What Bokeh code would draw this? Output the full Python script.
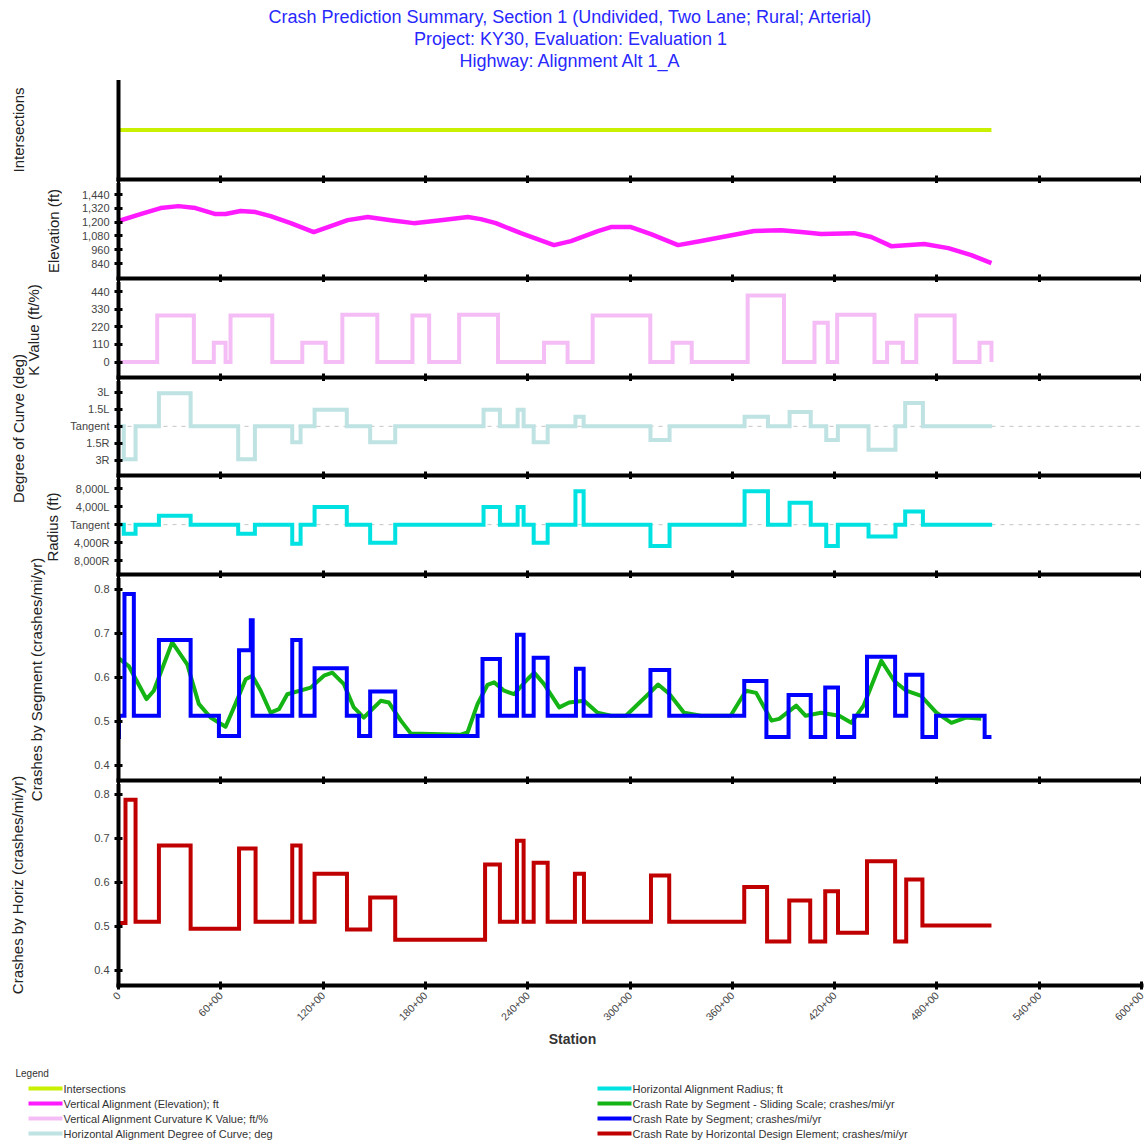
import math
from bokeh.plotting import figure
from bokeh.layouts import column, row
from bokeh.models import Range1d, FixedTicker, NumeralTickFormatter, Span, CustomLabelingPolicy
from bokeh.core.properties import value
from bokeh.embed import file_html
from bokeh.resources import INLINE

# ---------------- data ----------------
title_lines = [
    "Crash Prediction Summary, Section 1 (Undivided, Two Lane; Rural; Arterial)",
    "Project: KY30, Evaluation: Evaluation 1",
    "Highway: Alignment Alt 1_A",
]
panel_titles = ["Intersections", "Elevation (ft)", "K Value (ft/%)", "Degree of Curve (deg)",
                "Radius (ft)", "Crashes by Segment (crashes/mi/yr)", "Crashes by Horiz (crashes/mi/yr)"]
x_title = "Station"
x_ticks = [0, 60, 120, 180, 240, 300, 360, 420, 480, 540, 600]
x_tick_labels = ["0", "60+00", "120+00", "180+00", "240+00", "300+00",
                 "360+00", "420+00", "480+00", "540+00", "600+00"]

elev_ticks = [840, 960, 1080, 1200, 1320, 1440]
k_ticks = [0, 110, 220, 330, 440]
deg_ticks = [-3, -1.5, 0, 1.5, 3]
deg_tick_labels = ["3R", "1.5R", "Tangent", "1.5L", "3L"]
rad_ticks = [-8000, -4000, 0, 4000, 8000]
rad_tick_labels = ["8,000R", "4,000R", "Tangent", "4,000L", "8,000L"]
crash_ticks = [0.4, 0.5, 0.6, 0.7, 0.8]

# intersections (none: flat line)
isect_sta = [0, 512]
isect_val = [0, 0]

# vertical alignment elevation (ft) by station (x100 ft)
elev_sta = [0, 12.9, 24.7, 35.2, 45.2, 56.9, 62.8, 71.6, 80.4, 89.2, 101, 114.5, 124.5, 134.4,
            146.2, 159.7, 173.2, 189, 204.9, 212.5, 221.3, 236, 255.4, 265.4, 281.2, 288.8,
            300.6, 312.3, 328.2, 341.7, 372.8, 388.7, 400.4, 412.1, 431.5, 441.5, 453.2,
            472.6, 486.7, 500.2, 512]
elev_ft = [1209, 1270, 1322, 1339, 1322, 1270, 1270, 1296, 1287, 1252, 1191, 1113, 1165, 1217,
           1244, 1217, 1191, 1217, 1244, 1226, 1191, 1104, 1000, 1035, 1122, 1157,
           1157, 1096, 1000, 1035, 1122, 1130, 1113, 1096, 1104, 1070, 991,
           1009, 974, 913, 843]

# vertical curvature K value (segment boundaries, value per segment)
k_sta = [0, 22.7, 44.2, 55.9, 62.8, 65.7, 90.2, 107.8, 121.5, 131.3, 151.8, 172.4, 182.2,
         199.8, 222.6, 249.6, 263.4, 278.1, 311.9, 325, 336.2, 369, 390.3, 408.2, 416,
         421.5, 443.4, 450.8, 460, 467.9, 490.4, 505, 512]
k_val = [0, 290, 0, 120, 0, 290, 0, 120, 0, 295, 0, 290, 0, 295, 0, 120, 0, 290, 0, 120,
         0, 415, 0, 245, 0, 295, 0, 120, 0, 290, 0, 120]

# horizontal alignment (segment boundaries shared by degree and radius)
horiz_sta = [0, 3.1, 10, 23.7, 42.3, 70.2, 80, 101.9, 106.8, 115, 133.9, 147.6, 162.3, 214.1,
             223.7, 234.1, 237.6, 243.5, 251.7, 268, 272.8, 312, 323.2, 367.2, 380.9, 393.6,
             406, 415.1, 421.9, 439.9, 455.7, 461.4, 471.8, 512.4]
deg_val = [0, -2.9, 0, 2.9, 0, -2.9, 0, -1.4, 0, 1.45, 0, -1.4, 0, 1.45, 0, 1.45, 0, -1.4,
           0, 0.85, 0, -1.2, 0, 0.85, 0, 1.25, 0, -1.2, 0, -2.05, 0, 2.05, 0]
rad_val = [0, -2040, 0, 1980, 0, -2040, 0, -4250, 0, 3950, 0, -4030, 0, 3950, 0, 3950, 0,
           -4030, 0, 7470, 0, -4770, 0, 7470, 0, 4900, 0, -4770, 0, -2640, 0, 2930, 0]

# crash rate by segment (step)
seg_sta = [0, 0.3, 3.5, 9, 23.7, 42.3, 58.9, 70.7, 77.6, 78.7, 101.9, 106.8, 115, 133.9,
           141.1, 147.6, 162.3, 210.6, 213.5, 223.7, 233.7, 237.6, 243.5, 251.7, 268.3,
           272.8, 312, 323, 367, 380, 393, 406, 414.5, 422, 431.5, 439, 455.5, 462, 471.5,
           479.5, 508, 512]
seg_val = [0.465, 0.513, 0.79, 0.513, 0.685, 0.513, 0.467, 0.662, 0.73, 0.513, 0.685,
           0.513, 0.621, 0.513, 0.467, 0.568, 0.467, 0.513, 0.642, 0.513, 0.697, 0.513,
           0.645, 0.513, 0.62, 0.513, 0.617, 0.513, 0.592, 0.465, 0.56, 0.465, 0.577,
           0.465, 0.513, 0.647, 0.513, 0.606, 0.465, 0.513, 0.465]

# crash rate by segment - sliding scale (smooth)
slide_sta = [0, 6, 16.4, 20.7, 31.5, 40.3, 47.1, 54, 62.8, 68.6, 74.6, 78.5, 83.4, 89.2,
             94.1, 99, 112.7, 120.5, 125.4, 132.2, 138, 143.9, 153.8, 158.6, 165.6, 171.4,
             200.8, 204.7, 210.6, 216.4, 220.3, 226.2, 232, 239.9, 243.8, 249.6, 258.5,
             264.3, 273.1, 281, 288.8, 297.6, 311, 316.5, 323, 331.7, 341.7, 359, 368, 374,
             383, 387.5, 397.5, 403, 412, 422.7, 429.8, 437, 447.4, 455, 462, 470.8, 479.7,
             488.5, 497, 506]
slide_val = [0.644, 0.626, 0.551, 0.57, 0.68, 0.63, 0.54, 0.509, 0.488, 0.54, 0.596, 0.604,
             0.57, 0.52, 0.528, 0.562, 0.577, 0.604, 0.611, 0.585, 0.532, 0.509, 0.547,
             0.543, 0.502, 0.473, 0.47, 0.475, 0.54, 0.583, 0.589, 0.57, 0.562, 0.596,
             0.611, 0.585, 0.532, 0.543, 0.547, 0.52, 0.513, 0.513, 0.563, 0.584, 0.563,
             0.52, 0.513, 0.513, 0.57, 0.565, 0.502, 0.506, 0.536, 0.513, 0.52, 0.513,
             0.497, 0.536, 0.638, 0.592, 0.57, 0.558, 0.52, 0.497, 0.509, 0.506]

# crash rate by horizontal design element (step)
hde_sta = [0, 4.1, 10, 23.7, 42.3, 70.7, 80.4, 101.9, 106.8, 115, 134, 147.6, 162.3, 215,
           223.7, 233.7, 237.6, 243.5, 251.7, 267.7, 273, 312.3, 323, 367, 380.4, 393.4,
           405.7, 414.5, 422, 439, 455.5, 462, 471.5, 512]
hde_val = [0.508, 0.788, 0.511, 0.684, 0.495, 0.677, 0.511, 0.684, 0.511, 0.62, 0.493,
           0.566, 0.47, 0.641, 0.511, 0.695, 0.511, 0.645, 0.511, 0.62, 0.511, 0.616,
           0.511, 0.59, 0.466, 0.559, 0.466, 0.58, 0.486, 0.648, 0.466, 0.607, 0.502]

legend_title = "Legend"
legend_labels = [
    "Intersections",
    "Vertical Alignment (Elevation); ft",
    "Vertical Alignment Curvature K Value; ft/%",
    "Horizontal Alignment Degree of Curve; deg",
    "Horizontal Alignment Radius; ft",
    "Crash Rate by Segment - Sliding Scale; crashes/mi/yr",
    "Crash Rate by Segment; crashes/mi/yr",
    "Crash Rate by Horizontal Design Element; crashes/mi/yr",
]
legend_colors = ["#c8f000", "#ff1aff", "#f5bdf5", "#bfe2e2",
                 "#00e1e1", "#14b414", "#0000ff", "#c00000"]
C_ISECT, C_ELEV, C_K, C_DEG, C_RAD, C_SLIDE, C_SEG, C_HDE = legend_colors

# ---------------- layout constants (page pixels) ----------------
FONT = "Liberation Sans"
FRAME_W = 1023
LABEL_W = 62
AXIS_W = 56
TOTAL_W = LABEL_W + AXIS_W + FRAME_W
TOP = 80          # page y of first panel top
GAP = 4           # separator axis height
BOTTOM_AXIS = 44  # height of bottom axis with rotated labels
PAGE_BOTTOM = 1141

xr = Range1d(0, 600)
hide_labels = CustomLabelingPolicy(code="""
for (const i of indices)
  indices.unset(i)
""")


def style_x(xa, bottom):
    xa.ticker = FixedTicker(ticks=x_ticks, minor_ticks=[])
    xa.axis_line_width = 4
    xa.axis_line_cap = "square"
    xa.major_tick_in = 4
    xa.major_tick_out = 4
    xa.major_tick_line_width = 3
    xa.minor_tick_line_color = None
    if bottom:
        xa.major_label_overrides = dict(zip(x_ticks, x_tick_labels))
        xa.major_label_orientation = math.pi / 4
        xa.major_label_text_font = FONT
        xa.major_label_text_font_size = "10.5px"
        xa.major_label_text_color = "#444444"
        xa.major_label_standoff = 4
    else:
        xa.major_label_text_font_size = "0px"
        xa.major_label_standoff = 0
        xa.major_label_policy = hide_labels


def panel(h, yr, ticks, overrides=None, fmt=None, bottom=False):
    p = figure(frame_width=FRAME_W, frame_height=h, x_range=xr, y_range=Range1d(*yr),
               output_backend="svg", toolbar_location=None, min_border=0,
               min_border_left=AXIS_W, min_border_right=6 if bottom else 0)
    p.outline_line_color = None
    p.grid.visible = False
    p.background_fill_color = "white"
    p.border_fill_color = "white"
    ya = p.yaxis[0]
    ya.ticker = FixedTicker(ticks=ticks, minor_ticks=[])
    if overrides:
        ya.major_label_overrides = dict(zip(ticks, overrides))
    if fmt is not None:
        ya.formatter = fmt
    ya.axis_line_width = 4
    ya.axis_line_cap = "square"
    ya.major_tick_in = 4
    ya.major_tick_out = 4
    ya.major_tick_line_width = 3
    ya.minor_tick_line_color = None
    ya.major_label_text_font = FONT
    ya.major_label_text_font_size = "11px"
    ya.major_label_text_color = "#444444"
    ya.major_label_standoff = 5
    style_x(p.xaxis[0], bottom)
    return p


def step_xy(bounds, vals, end_val=None):
    ys = list(vals) + [vals[-1] if end_val is None else end_val]
    return list(bounds), ys


frame_heights = [99, 95, 95, 94, 95, 202, 201]

p1 = panel(frame_heights[0], (-1, 1), [])
p1.line(isect_sta, isect_val, line_width=4, line_color=C_ISECT)

p2 = panel(frame_heights[1], (709.6, 1535.7), elev_ticks, fmt=NumeralTickFormatter(format="0,0"))
p2.line(elev_sta, elev_ft, line_width=4.5, line_color=C_ELEV, line_join="round")

p3 = panel(frame_heights[2], (-96.7, 496.2), k_ticks)
kx, ky = step_xy(k_sta, k_val, end_val=0)
p3.step(kx, ky, mode="after", line_width=4, line_color=C_K, line_join="miter")

p4 = panel(frame_heights[3], (-4.32, 3.94), deg_ticks, overrides=deg_tick_labels)
p4.add_layout(Span(location=0, dimension="width", line_color="#c4c4c4", line_width=1,
                   line_dash="4 5", level="underlay"))
dx, dy = step_xy(horiz_sta, deg_val)
p4.step(dx, dy, mode="after", line_width=4, line_color=C_DEG, line_join="miter")

p5 = panel(frame_heights[4], (-11124, 10075), rad_ticks, overrides=rad_tick_labels)
p5.add_layout(Span(location=0, dimension="width", line_color="#c4c4c4", line_width=1,
                   line_dash="4 5", level="underlay"))
rx, ry = step_xy(horiz_sta, rad_val)
p5.step(rx, ry, mode="after", line_width=4, line_color=C_RAD, line_join="miter")

p6 = panel(frame_heights[5], (0.3659, 0.825), crash_ticks)
p6.line(slide_sta, slide_val, line_width=4, line_color=C_SLIDE, line_join="round")
sx, sy = step_xy(seg_sta, seg_val)
p6.step(sx, sy, mode="after", line_width=4, line_color=C_SEG, line_join="miter")

p7 = panel(frame_heights[6], (0.3659, 0.8227), crash_ticks, bottom=True)
hx, hy = step_xy(hde_sta, hde_val)
p7.step(hx, hy, mode="after", line_width=4, line_color=C_HDE, line_join="miter")

panels = [p1, p2, p3, p4, p5, p6, p7]

# ---- axis titles column (centred on each panel) ----
centers = []
top = TOP
for h in frame_heights:
    centers.append(top + h / 2)
    top += h + GAP
panels_bottom = top - GAP
lab_bottom = panels_bottom + BOTTOM_AXIS
label_x = [18, 53, 33, 18, 52, 36, 17]

lab = figure(frame_width=LABEL_W, frame_height=int(lab_bottom - TOP),
             x_range=Range1d(0, LABEL_W), y_range=Range1d(lab_bottom, TOP),
             output_backend="svg", toolbar_location=None, min_border=0)
lab.axis.visible = False
lab.grid.visible = False
lab.outline_line_color = None
lab.text(x=label_x, y=centers, text=panel_titles, angle=math.pi / 2,
         text_align="center", text_baseline="middle", text_font=value(FONT),
         text_font_size="15px", text_color="#222222")

# ---- header ----
hdr = figure(frame_width=TOTAL_W, frame_height=TOP,
             x_range=Range1d(0, TOTAL_W), y_range=Range1d(TOP, 0),
             output_backend="svg", toolbar_location=None, min_border=0)
hdr.axis.visible = False
hdr.grid.visible = False
hdr.outline_line_color = None
hdr.text(x=[570, 570, 570], y=[16, 38, 60], text=title_lines, text_align="center",
         text_baseline="middle", text_font=value(FONT), text_font_size="18px",
         text_color="#2828ff")

# ---- footer: station label + legend ----
ftop = lab_bottom
ftr = figure(frame_width=TOTAL_W, frame_height=int(PAGE_BOTTOM - ftop),
             x_range=Range1d(0, TOTAL_W), y_range=Range1d(PAGE_BOTTOM, ftop),
             output_backend="svg", toolbar_location=None, min_border=0)
ftr.axis.visible = False
ftr.grid.visible = False
ftr.outline_line_color = None
ftr.text(x=[572], y=[1038], text=[x_title], text_align="center", text_baseline="middle",
         text_font=value(FONT), text_font_size="14px", text_font_style="bold",
         text_color="#333333")
ftr.text(x=[15], y=[1073], text=[legend_title], text_align="left", text_baseline="middle",
         text_font=value(FONT), text_font_size="10px", text_color="#333333")
n = len(legend_labels)
col_x0 = [28 if i < n // 2 else 597 for i in range(n)]
col_x1 = [x + 34 for x in col_x0]
row_y = [1088 + 15 * (i % (n // 2)) for i in range(n)]
ftr.segment(x0=col_x0, y0=row_y, x1=col_x1, y1=row_y, line_color=legend_colors, line_width=4)
ftr.text(x=[x + 1 for x in col_x1], y=row_y, text=legend_labels, text_align="left",
         text_baseline="middle", text_font=value(FONT), text_font_size="11px",
         text_color="#333333")

layout = column(hdr, row(lab, column(*panels, spacing=0), spacing=0), ftr, spacing=0)

open("out.html", "w").write(file_html(layout, INLINE))
